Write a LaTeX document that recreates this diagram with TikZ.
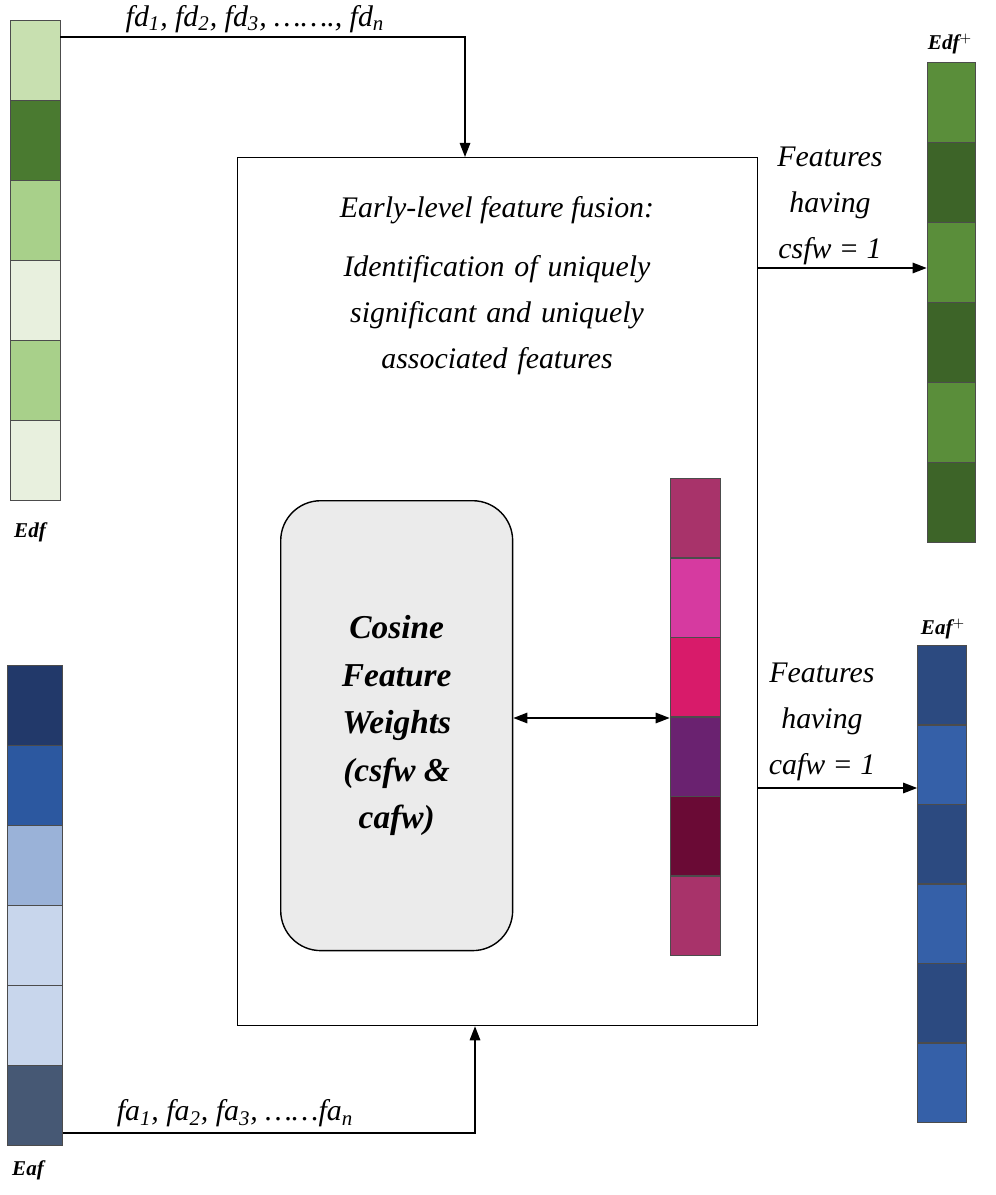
\documentclass[tikz,border=0pt]{standalone}
\usepackage{fontspec}
\setmainfont{Liberation Serif}
\usetikzlibrary{arrows.meta, positioning, calc}
\definecolor{gA}{HTML}{C8E0B0}
\definecolor{gB}{HTML}{4A7A30}
\definecolor{gC}{HTML}{A8D08A}
\definecolor{gD}{HTML}{E8F0DE}
\definecolor{gE}{HTML}{5A8E3A}
\definecolor{gF}{HTML}{3D6428}
\definecolor{mA}{HTML}{A8336A}
\definecolor{mB}{HTML}{D63AA0}
\definecolor{mC}{HTML}{D81B6A}
\definecolor{mD}{HTML}{6A2270}
\definecolor{mE}{HTML}{6A0A35}
\definecolor{bA}{HTML}{22396A}
\definecolor{bB}{HTML}{2C58A0}
\definecolor{bC}{HTML}{9AB2D8}
\definecolor{bD}{HTML}{C8D6EC}
\definecolor{bE}{HTML}{465874}
\definecolor{bF}{HTML}{2C4A80}
\definecolor{bG}{HTML}{3560A8}
\begin{document}
\begin{tikzpicture}[
  x=0.02cm, y=-0.02cm,
  cell/.style={rectangle, draw=black!70, fill=#1, minimum width=1cm, minimum height=1.6cm, inner sep=0pt, anchor=north},
  lbl/.style={font=\itshape\bfseries\fontsize{12}{14}\selectfont},
  txt/.style={font=\itshape\fontsize{17}{20}\selectfont, align=center},
  arr/.style={-{Triangle[length=8pt,width=6pt]}, thick}
]
  \useasboundingbox (0,0) rectangle (995,1195);

  % Input columns
  \foreach \c [count=\i] in {gA,gB,gC,gD,gC,gD}
    \node[cell=\c] (edf\i) at (35,{20+(\i-1)*80}) {};
  \node[lbl] (edf) at (30,532) {Edf};
  \foreach \c [count=\i] in {bA,bB,bC,bD,bD,bE}
    \node[cell=\c, minimum width=1.1cm] (eaf\i) at (35,{665+(\i-1)*80}) {};
  \node[lbl] (eaf) at (28,1170) {Eaf};

  % Fusion box
  \node[draw, thick, minimum width=10.4cm, minimum height=17.36cm, anchor=north west] (fusion) at (237,157) {};
  \node[txt] (early) at (497,210) {Early-level feature fusion:};
  \node[txt, text width=8cm] (ident) at (497,315) {Identification of uniquely\\[6pt] significant and uniquely\\[6pt] associated features};

  % Weights
  \node[draw, thick, fill=black!8, rounded corners=0.8cm, minimum width=4.64cm, minimum height=9cm, anchor=north west,
        font=\itshape\bfseries\fontsize{19}{25}\selectfont, align=center] (cfw) at (280,500)
        {Cosine\\[2pt] Feature\\[2pt] Weights\\[2pt] (csfw \&\\[2pt] cafw)};
  \foreach \c [count=\i] in {mA,mB,mC,mD,mE,mA}
    \node[cell=\c, minimum height=1.59cm] (w\i) at (695,{478+(\i-1)*79.5}) {};

  % Output columns
  \foreach \c [count=\i] in {gE,gF,gE,gF,gE,gF}
    \node[cell=\c, minimum width=0.96cm] (edfp\i) at (951,{62+(\i-1)*80}) {};
  \node[lbl] (edfp) at (950,44) {Edf$^{+}$};
  \foreach \c [count=\i] in {bF,bG,bF,bG,bF,bG}
    \node[cell=\c, minimum width=0.98cm, minimum height=1.59cm] (eafp\i) at (942,{645+(\i-1)*79.5}) {};
  \node[lbl] (eafp) at (943,629) {Eaf$^{+}$};

  % Connectors
  \coordinate (top) at (465,37);
  \coordinate (bot) at (475,1133);
  \draw[arr] (edf1.north east |- top) -- (top) -- (fusion.north -| top);
  \node[txt, anchor=south] (fd) at (255,39) {fd\textsubscript{1}, fd\textsubscript{2}, fd\textsubscript{3}, \dots\dots., fd\textsubscript{n}};
  \draw[arr] (eaf6.east |- bot) -- (bot) -- (fusion.south -| bot);
  \node[txt, anchor=south] (fa) at (235,1133) {fa\textsubscript{1}, fa\textsubscript{2}, fa\textsubscript{3}, \dots\dots fa\textsubscript{n}};
  \draw[{Triangle[length=8pt,width=6pt]}-{Triangle[length=8pt,width=6pt]}, thick] (cfw.east |- 0,718) -- (w4.west |- 0,718);

  \node[txt] (csf) at (830,206) {Features\\[6pt] having\\[6pt] csfw = 1};
  \draw[arr] (fusion.east |- 0,268) -- (edfp3.west |- 0,268);
  \node[txt] (caf) at (822,722) {Features\\[6pt] having\\[6pt] cafw = 1};
  \draw[arr] (fusion.east |- 0,788) -- (eafp2.west |- 0,788);
\end{tikzpicture}
\end{document}
